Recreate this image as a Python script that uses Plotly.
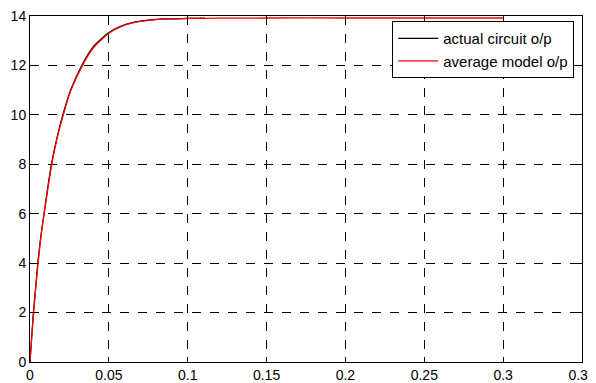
import plotly.graph_objects as go

# average model output (red)
avg_t = [0, 0.001, 0.0023, 0.0035, 0.0051, 0.007, 0.009, 0.0113, 0.0138, 0.017, 0.0211,
         0.026, 0.0333, 0.04, 0.05, 0.057, 0.065, 0.075, 0.085, 0.1, 0.12, 0.15, 0.2, 0.25, 0.3]
avg_v = [0, 0.9, 2.0, 2.9, 4.0, 5.1, 6.0, 7.0, 8.0, 9.0, 10.0,
         11.0, 12.0, 12.7, 13.3, 13.55, 13.72, 13.82, 13.87, 13.9, 13.91, 13.92, 13.92, 13.92, 13.92]

# actual circuit output (black)
act_t = [0, 0.001, 0.0022, 0.0035, 0.005, 0.007, 0.009, 0.0112, 0.0137, 0.017, 0.021,
         0.026, 0.0332, 0.04, 0.05, 0.057, 0.065, 0.075, 0.085, 0.1, 0.111]
act_v = [0, 0.95, 2.05, 2.95, 4.05, 5.15, 6.05, 7.05, 8.05, 9.05, 10.05,
         11.05, 12.05, 12.75, 13.33, 13.57, 13.73, 13.83, 13.88, 13.9, 13.91]

x_ticks = [0, 0.05, 0.1, 0.15, 0.2, 0.25, 0.3, 0.35]
x_labels = ["0", "0.05", "0.1", "0.15", "0.2", "0.25", "0.3", "0.35"]
y_ticks = [0, 2, 4, 6, 8, 10, 12, 14]

fig = go.Figure()
fig.add_trace(go.Scatter(x=act_t, y=act_v, mode="lines", name="actual circuit o/p",
                         line=dict(color="black", width=1.2, shape="spline", smoothing=0.6)))
fig.add_trace(go.Scatter(x=avg_t, y=avg_v, mode="lines", name="average model o/p",
                         line=dict(color="red", width=1.3, shape="spline", smoothing=0.6)))

axis_common = dict(showline=True, linecolor="black", linewidth=1, mirror="ticks",
                   ticks="inside", ticklen=5, tickcolor="black",
                   showgrid=True, gridcolor="black", griddash="dash", gridwidth=1,
                   zeroline=False, automargin=False, ticklabeloverflow="allow",
                   tickfont=dict(family="Liberation Sans, Arial, sans-serif", size=14, color="black"))

fig.update_xaxes(range=[0, 0.35], tickvals=x_ticks, ticktext=x_labels, **axis_common)
fig.update_yaxes(range=[0, 14], tickvals=y_ticks, **axis_common)

fig.update_layout(
    width=596, height=383,
    margin=dict(l=21.6, r=21.5, t=7.5, b=28.5),
    paper_bgcolor="white", plot_bgcolor="white",
    showlegend=True,
    legend=dict(x=0.986, y=0.985, xanchor="right", yanchor="top",
                bgcolor="white", bordercolor="black", borderwidth=1,
                font=dict(family="Liberation Sans, Arial, sans-serif", size=15, color="black"),
                tracegroupgap=0, itemwidth=40),
)

fig.write_html("out.html")
